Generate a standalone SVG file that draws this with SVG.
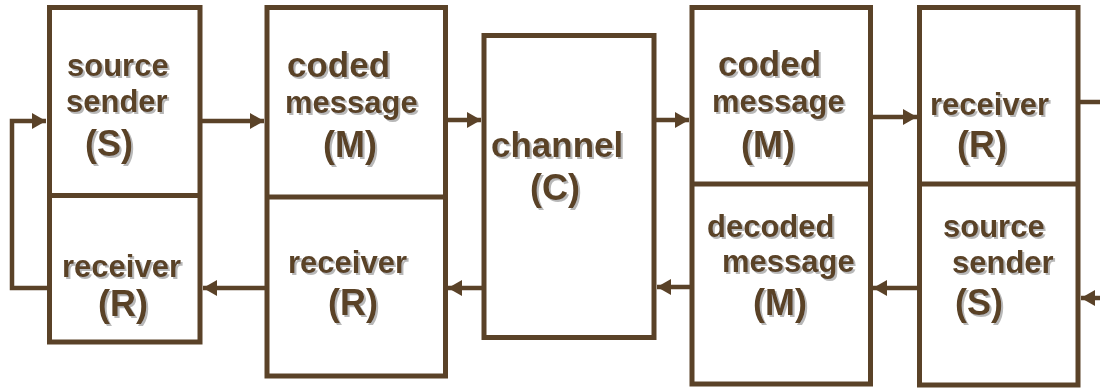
<svg xmlns="http://www.w3.org/2000/svg" width="1100" height="388" viewBox="0 0 1100 388">
<style>
.box{fill:#ffffff;stroke:#5a4228;stroke-width:5}
.div{stroke:#5a4228;stroke-width:5;fill:none}
.con{stroke:#5a4228;stroke-width:4.5;fill:none}
.arr{marker-end:url(#ah)}
text{font-family:"Liberation Sans",Arial,sans-serif;font-weight:bold;fill:#5a4228;filter:url(#sh)}
.t{font-size:31px}
.b{font-size:35px}
.p{font-size:36px}
</style>
<defs>
<marker id="ah" markerUnits="userSpaceOnUse" markerWidth="15" markerHeight="16" refX="14" refY="8" orient="auto">
<path d="M0,0 L14,8 L0,16 z" fill="#5a4228"/>
</marker>
<filter id="sh" x="-10%" y="-20%" width="130%" height="150%">
<feDropShadow dx="2" dy="2" stdDeviation="0.6" flood-color="#9a9a9a" flood-opacity="0.7"/>
</filter>
</defs>
<rect width="1100" height="388" fill="#ffffff"/>
<g id="connectors">
<path class="con arr" d="M47,288 H12 V121 H46"/>
<path class="con arr" d="M202,121 H264"/>
<path class="con arr" d="M265,288 H203"/>
<path class="con arr" d="M447,120 H481"/>
<path class="con arr" d="M482,288 H448"/>
<path class="con arr" d="M656,120 H689"/>
<path class="con arr" d="M690,287 H657"/>
<path class="con arr" d="M872,117 H917"/>
<path class="con arr" d="M917,288 H873"/>
<path class="con" d="M1080,102 H1100"/>
<path class="con arr" d="M1100,298 H1081"/>
</g>
<g id="node-source-sender">
<rect class="box" x="49.5" y="7.5" width="150.5" height="334.5"/>
<line class="div" x1="49.5" y1="195.5" x2="200" y2="195.5"/>
<text class="t" x="67" y="76">source</text>
<text class="t" x="66" y="112">sender</text>
<text class="p" x="85" y="156">(S)</text>
<text class="t" x="62" y="277">receiver</text>
<text class="p" x="98" y="316">(R)</text>
</g>
<g id="node-coded-message">
<rect class="box" x="267" y="7.5" width="178.5" height="368.5"/>
<line class="div" x1="267" y1="197" x2="445.5" y2="197"/>
<text class="b" x="287" y="77">coded</text>
<text class="t" x="285" y="113">message</text>
<text class="p" x="323" y="157">(M)</text>
<text class="t" x="288" y="273">receiver</text>
<text class="p" x="328" y="315">(R)</text>
</g>
<g id="node-channel">
<rect class="box" x="484" y="35.5" width="170" height="302"/>
<text class="b" x="491" y="157">channel</text>
<text class="p" x="530" y="200">(C)</text>
</g>
<g id="node-decoded-message">
<rect class="box" x="692" y="7.5" width="178.5" height="376.5"/>
<line class="div" x1="692" y1="184" x2="870.5" y2="184"/>
<text class="b" x="718" y="76">coded</text>
<text class="t" x="712" y="112">message</text>
<text class="p" x="741" y="157">(M)</text>
<text class="t" x="707" y="237">decoded</text>
<text class="t" x="722" y="272">message</text>
<text class="p" x="753" y="315">(M)</text>
</g>
<g id="node-receiver-sender">
<rect class="box" x="919.5" y="7.5" width="158.5" height="377.5"/>
<line class="div" x1="919.5" y1="184" x2="1078" y2="184"/>
<text class="t" x="930" y="115">receiver</text>
<text class="p" x="957" y="157">(R)</text>
<text class="t" x="943" y="237">source</text>
<text class="t" x="952" y="273">sender</text>
<text class="p" x="955" y="315">(S)</text>
</g>
</svg>
